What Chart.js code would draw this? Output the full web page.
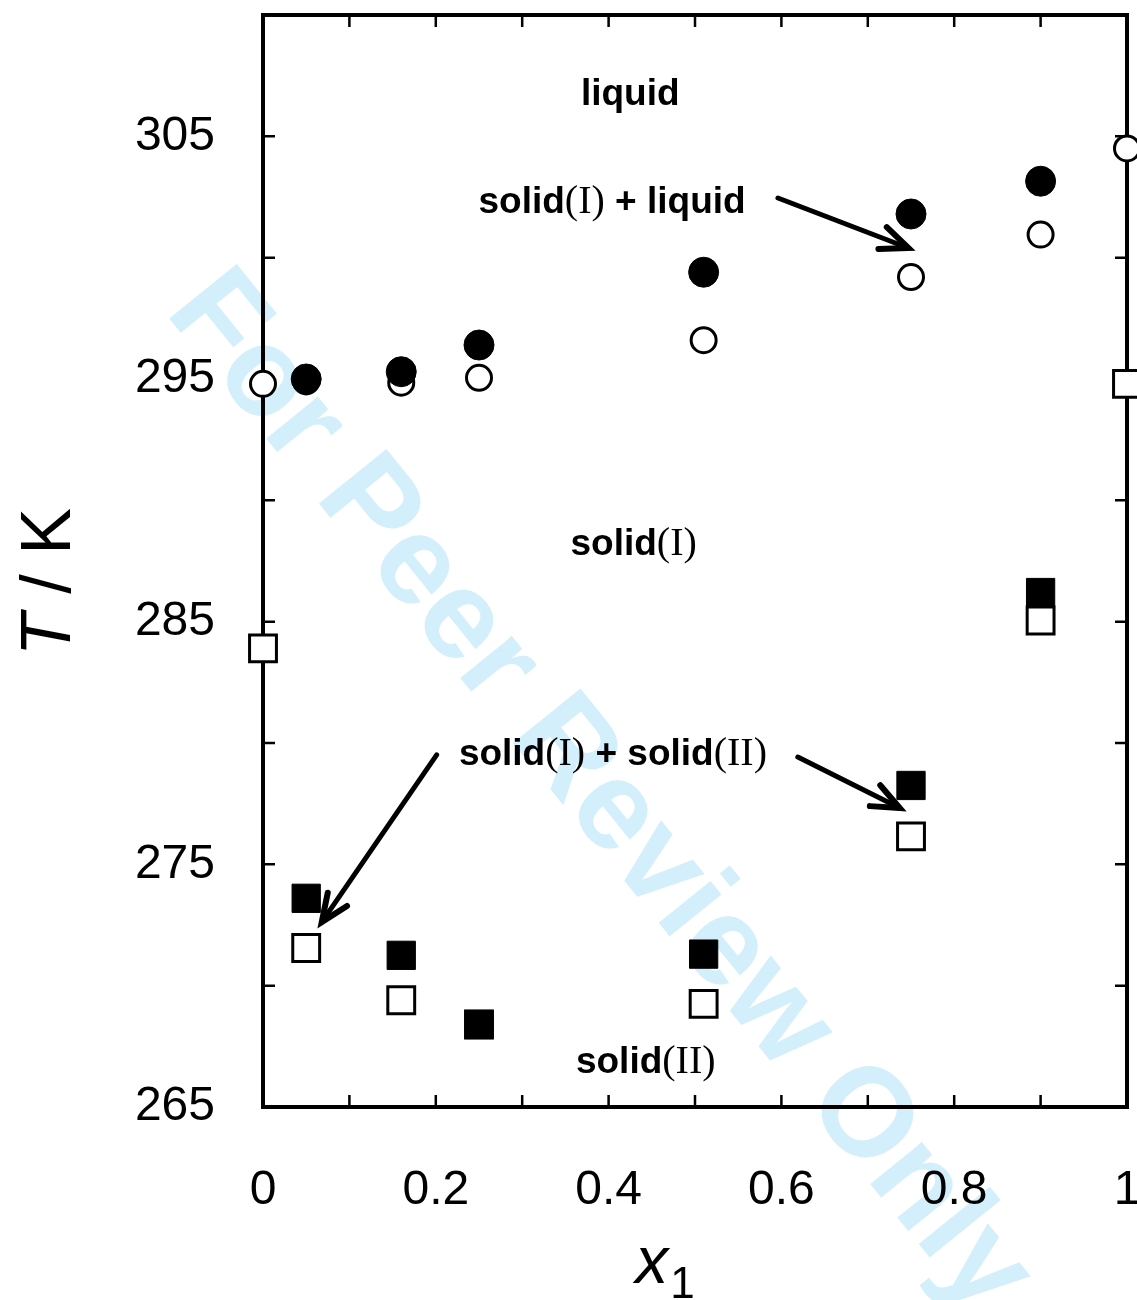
<!DOCTYPE html>
<html>
<head>
<meta charset="utf-8">
<title>T-x1 phase diagram</title>
<script src="https://cdn.jsdelivr.net/npm/chart.js@4.4.1/dist/chart.umd.min.js"></script>
<style>
  html, body { margin: 0; padding: 0; background: #fff; }
  #wrap { width: 1137px; height: 1300px; }
</style>
</head>
<body>
<div id="wrap"><canvas id="phaseChart" width="1137" height="1300"></canvas></div>
<script>
// mole fraction x1 of the mixtures
const mixX = [0.05, 0.16, 0.25, 0.51, 0.75, 0.90];
const allX = [0, 0.05, 0.16, 0.25, 0.51, 0.75, 0.90, 1];

// T / K
const liquidusT = [295.0, 295.3, 296.4, 299.4, 301.8, 303.15];                    // filled circles
const solidusT = [294.8, 294.9, 294.85, 295.05, 296.6, 299.2, 300.95, 304.5];    // open circles
const transUpperT = [273.6, 271.25, 268.4, 271.3, 278.25, 286.2];                 // filled squares
const transLowerT = [283.9, 271.55, 269.4, 268.4, 269.25, 276.15, 285.05, 294.8]; // open squares

const xTickLabels = [0, 0.2, 0.4, 0.6, 0.8, 1];
const yTickLabels = [265, 275, 285, 295, 305];

// region labels, in data units (x1, T)
const regionLabels = [
  { runs: [["liquid", "s"]], x: 0.425, y: 306.3 },
  { runs: [["solid", "s"], ["(I)", "r"], [" + liquid", "s"]], x: 0.404, y: 301.85 },
  { runs: [["solid", "s"], ["(I)", "r"]], x: 0.429, y: 287.75 },
  { runs: [["solid", "s"], ["(I)", "r"], [" + solid", "s"], ["(II)", "r"]], x: 0.405, y: 279.1 },
  { runs: [["solid", "s"], ["(II)", "r"]], x: 0.443, y: 266.4 },
];
const arrows = [
  { from: [0.596, 302.46], to: [0.747, 300.4] },
  { from: [0.619, 279.42], to: [0.737, 277.32] },
  { from: [0.201, 279.51], to: [0.068, 272.62] },
];

const toPts = (xs, ys) => xs.map((x, i) => ({ x: x, y: ys[i] }));

const SANS = "'Liberation Sans', Arial, sans-serif";
const SERIF = "'Liberation Serif', 'Times New Roman', serif";

function drawRuns(ctx, runs, cx, baseline, sizes) {
  const fontOf = (k) => k === "s" ? "bold " + sizes.s + "px " + SANS : sizes.r + "px " + SERIF;
  let total = 0;
  runs.forEach(([t, k]) => { ctx.font = fontOf(k); total += ctx.measureText(t).width; });
  let x = cx - total / 2;
  ctx.textAlign = "left";
  ctx.textBaseline = "alphabetic";
  runs.forEach(([t, k]) => {
    ctx.font = fontOf(k);
    ctx.fillText(t, x, baseline);
    x += ctx.measureText(t).width;
  });
}

const watermark = {
  id: "watermark",
  beforeDraw(chart) {
    const ctx = chart.ctx;
    ctx.save();
    ctx.translate(164, 312);
    ctx.rotate(51 * Math.PI / 180);
    ctx.fillStyle = "#d3effb";
    ctx.font = "bold 126px " + SANS;
    ctx.textAlign = "left";
    ctx.textBaseline = "alphabetic";
    ctx.fillText("For Peer Review Only", 0, 0);
    ctx.restore();
  }
};

const frame = {
  id: "frame",
  beforeDatasetsDraw(chart) {
    const { ctx, chartArea: a } = chart;
    const xs = chart.scales.x, ys = chart.scales.y;
    ctx.save();
    ctx.strokeStyle = "#000";
    ctx.lineWidth = 2.5;
    ctx.beginPath();
    xs.ticks.forEach(t => {
      const p = xs.getPixelForValue(t.value);
      if (p <= a.left + 1 || p >= a.right - 1) return;
      ctx.moveTo(p, a.bottom); ctx.lineTo(p, a.bottom - 12);
      ctx.moveTo(p, a.top); ctx.lineTo(p, a.top + 12);
    });
    ys.ticks.forEach(t => {
      const p = ys.getPixelForValue(t.value);
      if (p <= a.top + 1 || p >= a.bottom - 1) return;
      ctx.moveTo(a.left, p); ctx.lineTo(a.left + 12, p);
      ctx.moveTo(a.right, p); ctx.lineTo(a.right - 12, p);
    });
    ctx.stroke();
    ctx.lineWidth = 4;
    ctx.strokeRect(a.left, a.top, a.right - a.left, a.bottom - a.top);
    ctx.restore();
  }
};

const notes = {
  id: "notes",
  afterDatasetsDraw(chart) {
    const ctx = chart.ctx;
    const xs = chart.scales.x, ys = chart.scales.y;
    ctx.save();
    ctx.fillStyle = "#000";
    regionLabels.forEach(l => {
      drawRuns(ctx, l.runs, xs.getPixelForValue(l.x), ys.getPixelForValue(l.y), { s: 37, r: 40 });
    });
    ctx.strokeStyle = "#000";
    ctx.lineCap = "round";
    arrows.forEach(a => {
      const x0 = xs.getPixelForValue(a.from[0]), y0 = ys.getPixelForValue(a.from[1]);
      const x1 = xs.getPixelForValue(a.to[0]), y1 = ys.getPixelForValue(a.to[1]);
      const ang = Math.atan2(y1 - y0, x1 - x0);
      ctx.lineWidth = 5;
      ctx.beginPath();
      ctx.moveTo(x0, y0); ctx.lineTo(x1, y1);
      ctx.stroke();
      const head = 30, spread = 0.4;
      ctx.lineWidth = 6;
      ctx.beginPath();
      ctx.moveTo(x1 - head * Math.cos(ang - spread), y1 - head * Math.sin(ang - spread));
      ctx.lineTo(x1, y1);
      ctx.lineTo(x1 - head * Math.cos(ang + spread), y1 - head * Math.sin(ang + spread));
      ctx.stroke();
    });
    ctx.restore();
  }
};

const axisTitles = {
  id: "axisTitles",
  afterDraw(chart) {
    const ctx = chart.ctx;
    ctx.save();
    ctx.fillStyle = "#000";
    // T / K
    ctx.save();
    ctx.translate(70, 582);
    ctx.rotate(-Math.PI / 2);
    const parts = [["T", "italic 70px " + SANS], [" / K", "70px " + SANS]];
    let w = 0;
    parts.forEach(([t, f]) => { ctx.font = f; w += ctx.measureText(t).width; });
    let x = -w / 2;
    ctx.textBaseline = "alphabetic";
    parts.forEach(([t, f]) => { ctx.font = f; ctx.fillText(t, x, 0); x += ctx.measureText(t).width; });
    ctx.restore();
    // x1
    ctx.textBaseline = "alphabetic";
    ctx.font = "italic 66px " + SANS;
    const xw = ctx.measureText("x").width;
    ctx.font = "44px " + SANS;
    const sw = ctx.measureText("1").width;
    const left = 664 - (xw + sw) / 2;
    ctx.font = "italic 66px " + SANS;
    ctx.fillText("x", left, 1283);
    ctx.font = "44px " + SANS;
    ctx.fillText("1", left + xw + 2, 1298);
    ctx.restore();
  }
};

// keep the plot box where the figure has it: no extra room for overhanging labels
const noPad = (s) => { s.paddingTop = 0; s.paddingBottom = 0; s.paddingLeft = 0; s.paddingRight = 0; };

const filled = { backgroundColor: "#000", borderColor: "#000", borderWidth: 1 };
const hollow = { backgroundColor: "#fff", borderColor: "#000", borderWidth: 3 };

const chart = new Chart(document.getElementById("phaseChart"), {
  type: "scatter",
  data: {
    datasets: [
      { label: "liquidus", data: toPts(mixX, liquidusT), pointStyle: "circle", pointRadius: 15, clip: false, ...filled },
      { label: "solidus", data: toPts(allX, solidusT), pointStyle: "circle", pointRadius: 12.5, clip: false, ...hollow },
      { label: "transition upper", data: toPts(mixX, transUpperT), pointStyle: "rect", pointRadius: 20, clip: false, ...filled },
      { label: "transition lower", data: toPts(allX, transLowerT), pointStyle: "rect", pointRadius: 19, clip: false, ...hollow },
    ]
  },
  options: {
    responsive: false,
    animation: false,
    events: [],
    layout: { autoPadding: false, padding: { top: 15, right: 10, left: 0, bottom: 0 } },
    plugins: { legend: { display: false }, tooltip: { enabled: false } },
    scales: {
      x: {
        type: "linear", min: 0, max: 1,
        grid: { display: false }, border: { display: false },
        afterFit: (s) => { s.height = 193; noPad(s); },
        ticks: {
          stepSize: 0.1, padding: 47, maxRotation: 0, autoSkip: false, color: "#000",
          font: { family: SANS, size: 48 },
          callback: (v) => {
            const r = Math.round(v * 10) / 10;
            return xTickLabels.includes(r) ? String(r) : "";
          }
        }
      },
      y: {
        type: "linear", min: 265, max: 310,
        grid: { display: false }, border: { display: false },
        afterFit: (s) => { s.width = 263; noPad(s); },
        ticks: {
          stepSize: 5, padding: 40, autoSkip: false, color: "#000",
          font: { family: SANS, size: 48 },
          callback: (v) => yTickLabels.includes(v) ? String(v) : ""
        }
      }
    }
  },
  plugins: [watermark, frame, notes, axisTitles]
});
</script>
</body>
</html>
